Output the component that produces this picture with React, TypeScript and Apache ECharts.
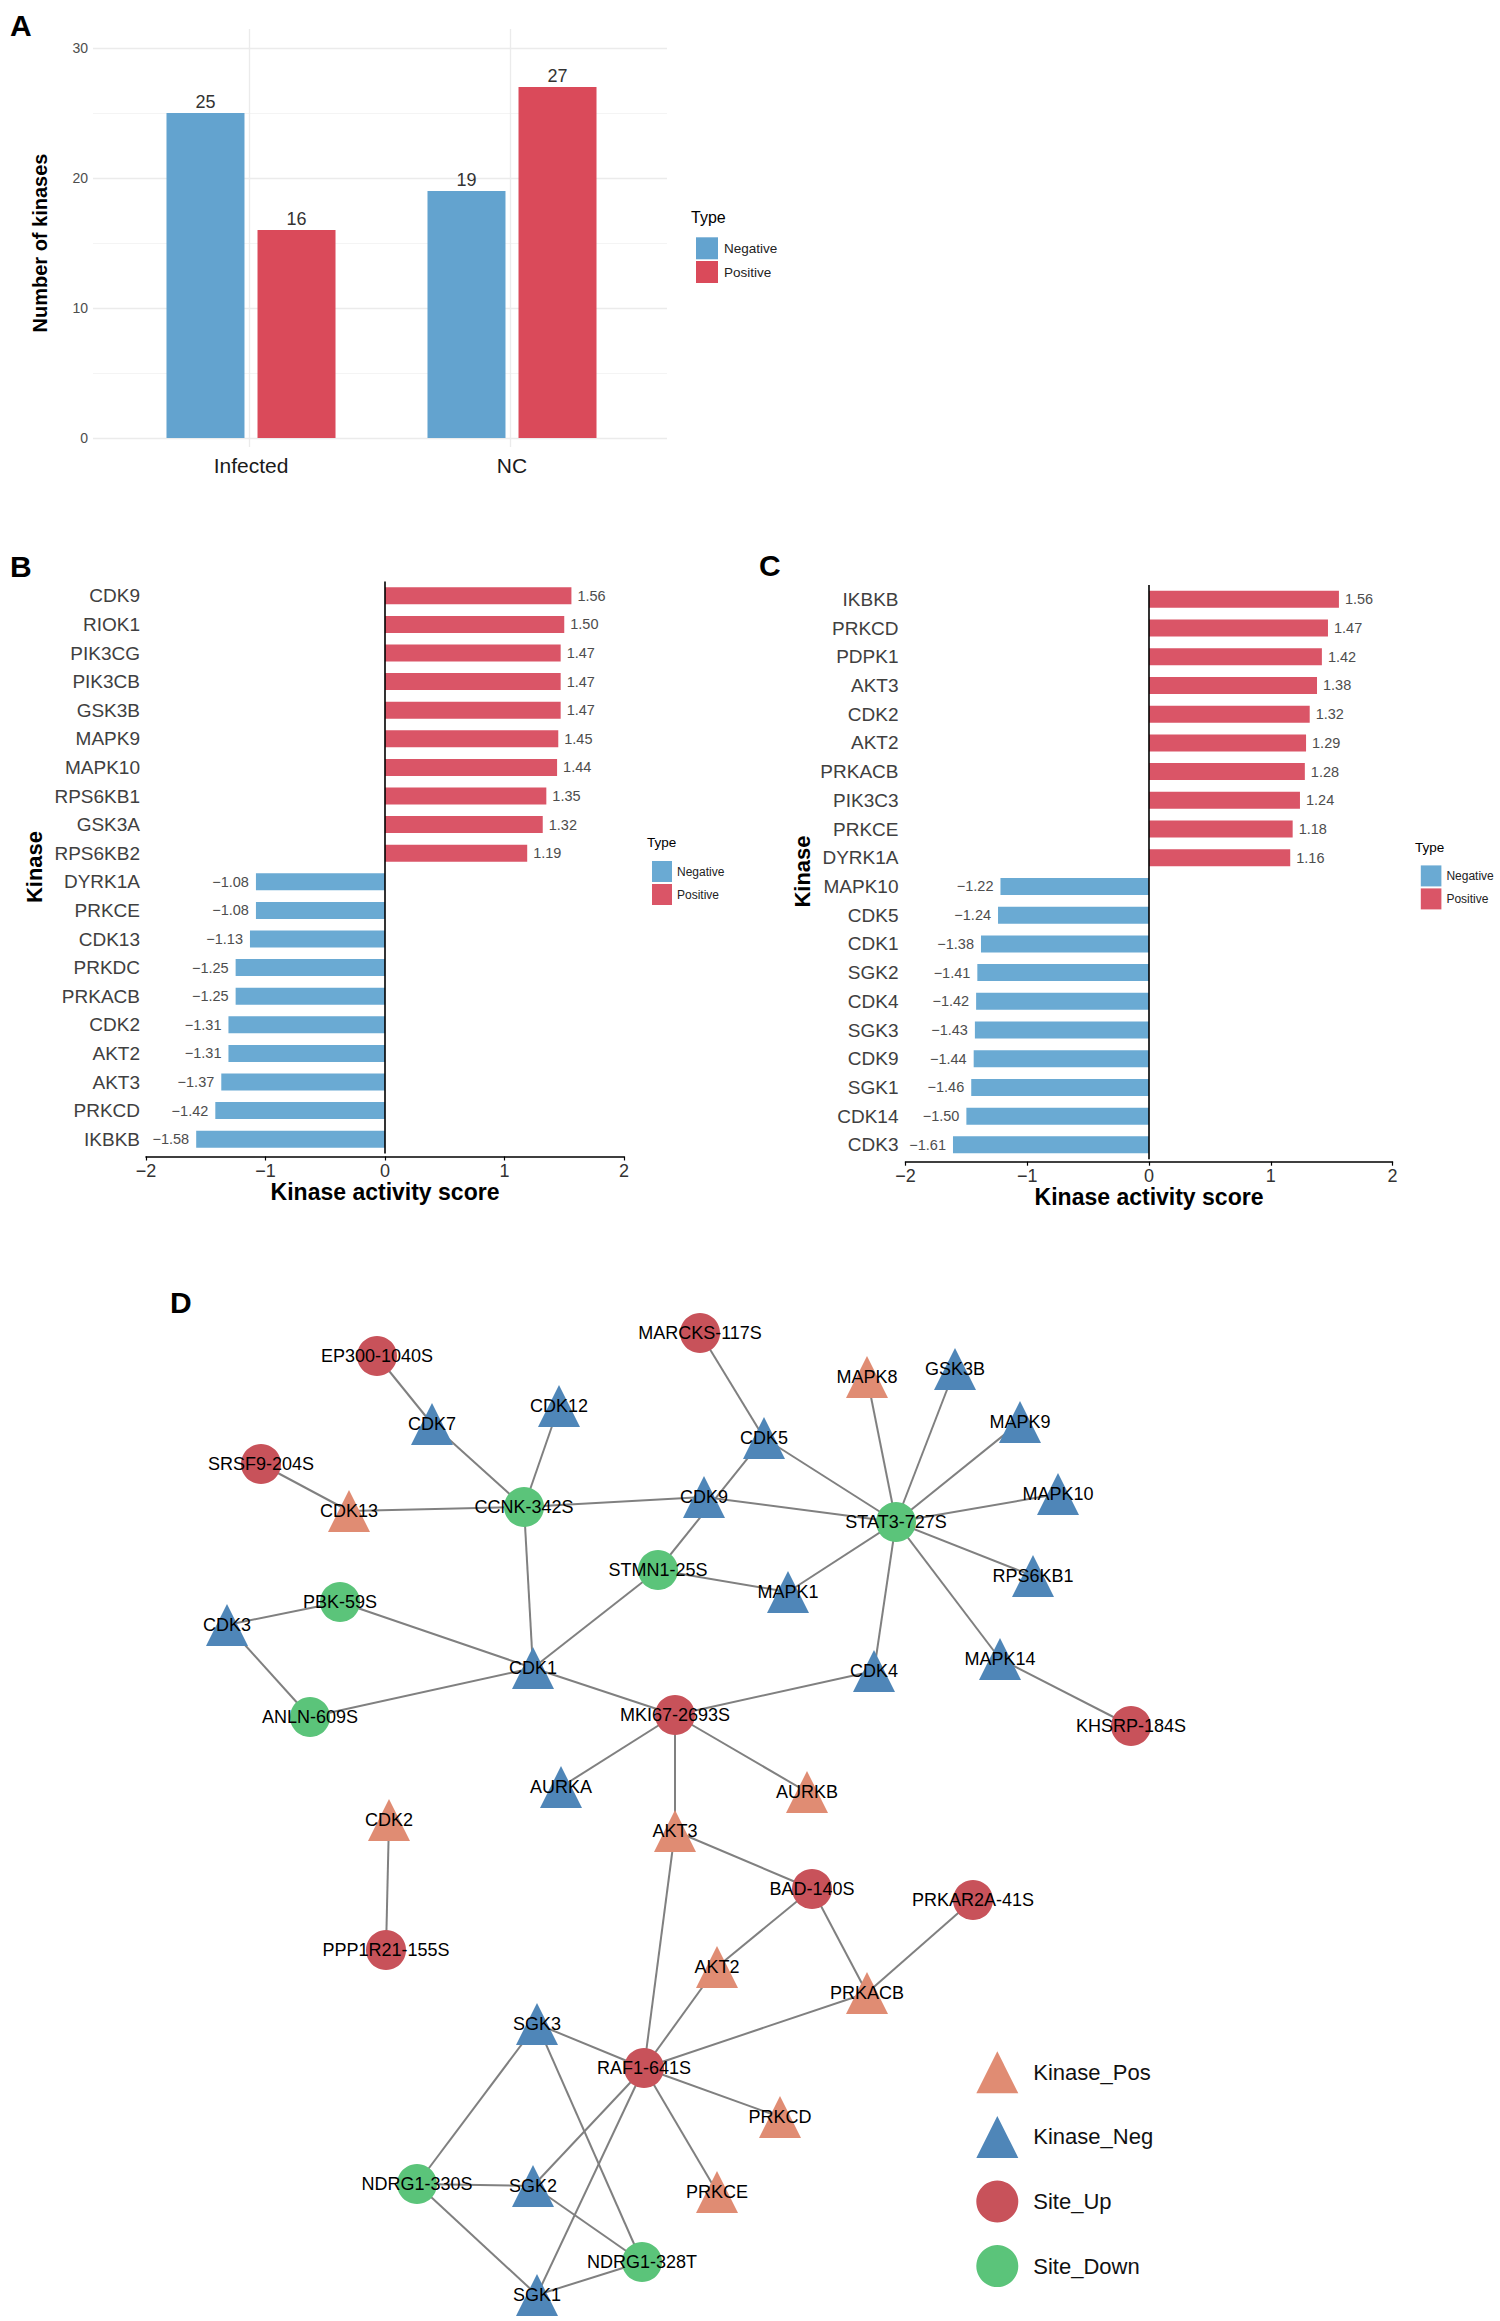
import React, { useEffect, useRef } from 'react';
import * as echarts from 'echarts';

const FONT = '"Liberation Sans", Arial, Helvetica, sans-serif';
const MINUS = '\u2212';

// ---------- Panel A ----------
const aCategories = ['Infected', 'NC'];
const aNegative = [25, 19];
const aPositive = [16, 27];

// ---------- Panel B ----------
const bKinases = ['CDK9', 'RIOK1', 'PIK3CG', 'PIK3CB', 'GSK3B', 'MAPK9', 'MAPK10', 'RPS6KB1', 'GSK3A', 'RPS6KB2',
  'DYRK1A', 'PRKCE', 'CDK13', 'PRKDC', 'PRKACB', 'CDK2', 'AKT2', 'AKT3', 'PRKCD', 'IKBKB'];
const bScores = [1.56, 1.50, 1.47, 1.47, 1.47, 1.45, 1.44, 1.35, 1.32, 1.19,
  -1.08, -1.08, -1.13, -1.25, -1.25, -1.31, -1.31, -1.37, -1.42, -1.58];

// ---------- Panel C ----------
const cKinases = ['IKBKB', 'PRKCD', 'PDPK1', 'AKT3', 'CDK2', 'AKT2', 'PRKACB', 'PIK3C3', 'PRKCE', 'DYRK1A',
  'MAPK10', 'CDK5', 'CDK1', 'SGK2', 'CDK4', 'SGK3', 'CDK9', 'SGK1', 'CDK14', 'CDK3'];
const cScores = [1.56, 1.47, 1.42, 1.38, 1.32, 1.29, 1.28, 1.24, 1.18, 1.16,
  -1.22, -1.24, -1.38, -1.41, -1.42, -1.43, -1.44, -1.46, -1.50, -1.61];

// ---------- Panel D (network layout) ----------
const nodeTypes = ['Kinase_Pos', 'Kinase_Neg', 'Site_Up', 'Site_Down'];
const nodeNames = [
  'CDK7', 'CDK12', 'CDK5', 'CDK9', 'GSK3B', 'MAPK9', 'MAPK10', 'RPS6KB1', 'MAPK1', 'CDK3', 'CDK1', 'CDK4', 'MAPK14', 'AURKA', 'SGK3', 'SGK2', 'SGK1',
  'CDK13', 'MAPK8', 'AURKB', 'CDK2', 'AKT3', 'AKT2', 'PRKACB', 'PRKCD', 'PRKCE',
  'EP300-1040S', 'MARCKS-117S', 'SRSF9-204S', 'MKI67-2693S', 'KHSRP-184S', 'BAD-140S', 'PRKAR2A-41S', 'PPP1R21-155S', 'RAF1-641S',
  'CCNK-342S', 'STMN1-25S', 'PBK-59S', 'ANLN-609S', 'STAT3-727S', 'NDRG1-330S', 'NDRG1-328T',
];
const nodeType = [
  1, 1, 1, 1, 1, 1, 1, 1, 1, 1, 1, 1, 1, 1, 1, 1, 1,
  0, 0, 0, 0, 0, 0, 0, 0, 0,
  2, 2, 2, 2, 2, 2, 2, 2, 2,
  3, 3, 3, 3, 3, 3, 3,
];
const nodeX = [
  432, 559, 764, 704, 955, 1020, 1058, 1033, 788, 227, 533, 874, 1000, 561, 537, 533, 537,
  349, 867, 807, 389, 675, 717, 867, 780, 717,
  377, 700, 261, 675, 1131, 812, 973, 386, 644,
  524, 658, 340, 310, 896, 417, 642,
];
const nodeY = [
  1424, 1406, 1438, 1497, 1369, 1422, 1494, 1576, 1592, 1625, 1668, 1671, 1659, 1787, 2024, 2186, 2295,
  1511, 1377, 1792, 1820, 1831, 1967, 1993, 2117, 2192,
  1356, 1333, 1464, 1715, 1726, 1889, 1900, 1950, 2068,
  1507, 1570, 1602, 1717, 1522, 2184, 2262,
];
const edges: [string, string][] = [
  ['EP300-1040S', 'CDK7'], ['CDK7', 'CCNK-342S'], ['CDK12', 'CCNK-342S'], ['SRSF9-204S', 'CDK13'],
  ['CDK13', 'CCNK-342S'], ['CCNK-342S', 'CDK9'], ['CCNK-342S', 'CDK1'], ['MARCKS-117S', 'CDK5'],
  ['CDK5', 'STMN1-25S'], ['CDK5', 'STAT3-727S'], ['CDK9', 'STAT3-727S'], ['MAPK8', 'STAT3-727S'],
  ['GSK3B', 'STAT3-727S'], ['MAPK9', 'STAT3-727S'], ['MAPK10', 'STAT3-727S'], ['RPS6KB1', 'STAT3-727S'],
  ['MAPK1', 'STAT3-727S'], ['CDK4', 'STAT3-727S'], ['MAPK14', 'STAT3-727S'], ['MAPK14', 'KHSRP-184S'],
  ['STMN1-25S', 'MAPK1'], ['STMN1-25S', 'CDK1'], ['PBK-59S', 'CDK3'], ['PBK-59S', 'CDK1'],
  ['CDK3', 'ANLN-609S'], ['ANLN-609S', 'CDK1'], ['CDK1', 'MKI67-2693S'], ['MKI67-2693S', 'CDK4'],
  ['MKI67-2693S', 'AURKA'], ['MKI67-2693S', 'AURKB'], ['MKI67-2693S', 'AKT3'], ['AKT3', 'BAD-140S'],
  ['AKT3', 'RAF1-641S'], ['CDK2', 'PPP1R21-155S'], ['BAD-140S', 'AKT2'], ['BAD-140S', 'PRKACB'],
  ['PRKAR2A-41S', 'PRKACB'], ['AKT2', 'RAF1-641S'], ['PRKACB', 'RAF1-641S'], ['SGK3', 'RAF1-641S'],
  ['RAF1-641S', 'PRKCD'], ['RAF1-641S', 'PRKCE'], ['RAF1-641S', 'SGK2'], ['RAF1-641S', 'SGK1'],
  ['SGK3', 'NDRG1-330S'], ['SGK3', 'NDRG1-328T'], ['NDRG1-330S', 'SGK2'], ['NDRG1-330S', 'SGK1'],
  ['SGK2', 'NDRG1-328T'], ['SGK1', 'NDRG1-328T'],
];

// ---------- colours ----------
const A_NEG = '#63A3CF';
const A_POS = '#DA4A5A';
const BC_NEG = '#6AAAD3';
const BC_POS = '#DA5567';
const TYPE_COLORS = ['#E08C73', '#4F86B8', '#C8525A', '#5BC47A'];
const TYPE_SYMBOLS = ['triangle', 'triangle', 'circle', 'circle'];

function fmtSigned(v: number) {
  return (v < 0 ? MINUS : '') + Math.abs(v).toFixed(2);
}

function hbarSeries(idx: number, scores: number[], withZero: boolean) {
  const neg = scores.map((v) => (v < 0 ? v : null));
  const pos = scores.map((v) => (v > 0 ? v : null));
  const labelBase = { show: true, fontSize: 14.5, color: '#4d4d4d', fontFamily: FONT, formatter: (p: any) => fmtSigned(p.value) };
  return [
    {
      type: 'bar', name: 'Negative', xAxisIndex: idx, yAxisIndex: idx, data: neg, barWidth: 17, barGap: '-100%',
      itemStyle: { color: BC_NEG }, label: { ...labelBase, position: 'left', distance: 7 }, silent: true, z: 2,
    },
    {
      type: 'bar', name: 'Positive', xAxisIndex: idx, yAxisIndex: idx, data: pos, barWidth: 17, barGap: '-100%',
      itemStyle: { color: BC_POS }, label: { ...labelBase, position: 'right', distance: 6 }, silent: true, z: 2,
      markLine: withZero ? {
        silent: true, symbol: ['none', 'none'], label: { show: false },
        lineStyle: { color: '#000', width: 1.6, type: 'solid' }, data: [{ xAxis: 0 }],
      } : undefined,
    },
  ];
}

function scoreXAxis(gridIndex: number, offset: number) {
  return {
    gridIndex, type: 'value', min: -2, max: 2, interval: 1, offset,
    axisLine: { show: true, onZero: false, lineStyle: { color: '#000', width: 1.6 } },
    axisTick: { show: true, length: 4, lineStyle: { color: '#000', width: 1.2 } },
    axisLabel: { fontSize: 18, color: '#333', margin: 5, fontFamily: FONT, formatter: (v: number) => (v < 0 ? MINUS + Math.abs(v) : String(v)) },
    splitLine: { show: false },
    name: 'Kinase activity score', nameLocation: 'middle', nameGap: 24,
    nameTextStyle: { fontSize: 23, fontWeight: 'bold', color: '#000', fontFamily: FONT },
  };
}

function kinaseYAxis(gridIndex: number, data: string[], margin: number) {
  return {
    gridIndex, type: 'category', inverse: true, data,
    axisLine: { show: false }, axisTick: { show: false }, splitLine: { show: false },
    axisLabel: { fontSize: 19, color: '#404040', margin, fontFamily: FONT },
  };
}

function typeLegend(left: number, top: number, w: number, h: number, gap: number, pad: number, fs: number, neg: string, pos: string) {
  return {
    orient: 'vertical', left, top, itemWidth: w, itemHeight: h, itemGap: gap, icon: 'rect', selectedMode: false,
    textStyle: { fontSize: fs, color: '#222', fontFamily: FONT, padding: [0, 0, 0, pad] },
    data: [
      { name: 'Negative', itemStyle: { color: neg } },
      { name: 'Positive', itemStyle: { color: pos } },
    ],
  };
}

function txt(x: number, y: number, text: string, fontSize: number, bold: boolean, rotation = 0, align = 'left') {
  return {
    type: 'text', x, y, rotation, silent: true,
    style: { text, fontSize, fontWeight: bold ? 'bold' : 'normal', fontFamily: FONT, fill: '#000', align, verticalAlign: 'middle' },
  };
}

export default function App() {
  const ref = useRef<HTMLDivElement>(null);
  useEffect(() => {
    if (!ref.current) return;
    const chart = echarts.init(ref.current, undefined, { renderer: 'svg' });

    const nodes = nodeNames.map((name, i) => ({
      name,
      value: [nodeX[i], nodeY[i]],
      category: nodeType[i],
      symbol: TYPE_SYMBOLS[nodeType[i]],
      symbolSize: nodeType[i] < 2 ? [42, 42] : 40,
      itemStyle: { color: TYPE_COLORS[nodeType[i]] },
    }));

    const option: any = {
      animation: false,
      backgroundColor: '#fff',
      textStyle: { fontFamily: FONT },
      grid: [
        { left: 93, top: 29, width: 574, height: 418 },
        { left: 93, top: 48, width: 574, height: 390 },
        { left: 120.5, top: 48, width: 522, height: 390 },
        { left: 146, top: 581.5, width: 478, height: 572 },
        { left: 905.5, top: 585, width: 487, height: 574.2 },
        { left: 0, top: 0, width: 1500, height: 2321 },
      ],
      xAxis: [
        { gridIndex: 0, type: 'value', min: 0.4, max: 2.6, show: false },
        { gridIndex: 1, type: 'value', min: 0.4, max: 2.6, show: false },
        {
          gridIndex: 2, type: 'category', data: aCategories,
          axisLine: { show: false }, axisTick: { show: false }, splitLine: { show: false },
          axisLabel: { fontSize: 21, color: '#1a1a1a', margin: 17, fontFamily: FONT },
        },
        scoreXAxis(3, 3),
        scoreXAxis(4, 2.5),
        { gridIndex: 5, type: 'value', min: 0, max: 1500, show: false },
      ],
      yAxis: [
        { gridIndex: 0, type: 'value', min: 0, max: 1, show: false },
        {
          gridIndex: 1, type: 'value', min: 0, max: 30, interval: 10,
          axisLine: { show: false }, axisTick: { show: false },
          axisLabel: { fontSize: 14, color: '#4d4d4d', margin: 5, fontFamily: FONT },
          splitLine: { show: true, lineStyle: { color: '#EBEBEB', width: 1.3 } },
          minorTick: { show: false, splitNumber: 2 },
          minorSplitLine: { show: true, lineStyle: { color: '#F4F4F4', width: 1 } },
        },
        { gridIndex: 2, type: 'value', min: 0, max: 30, show: false },
        kinaseYAxis(3, bKinases, 6),
        kinaseYAxis(4, cKinases, 7),
        { gridIndex: 5, type: 'value', min: 0, max: 2321, inverse: true, show: false },
      ],
      legend: [
        typeLegend(691, 232.3, 22, 22, 1.7, 1, 13.5, A_NEG, A_POS),
        typeLegend(647, 856, 20, 21, 2, 0, 12, BC_NEG, BC_POS),
        typeLegend(1415.8, 860.4, 20.6, 21, 2, 0, 12, BC_NEG, BC_POS),
        {
          orient: 'vertical', left: 971.3, top: 2046.3, itemWidth: 42, itemHeight: 42, itemGap: 22.6, selectedMode: false,
          textStyle: { fontSize: 22, color: '#111', fontFamily: FONT, padding: [0, 0, 0, 10] },
          data: nodeTypes.map((n, i) => ({ name: n, icon: TYPE_SYMBOLS[i], itemStyle: { color: TYPE_COLORS[i] } })),
        },
      ],
      graphic: [
        txt(10, 25, 'A', 30, true),
        txt(10, 566, 'B', 30, true),
        txt(759, 565, 'C', 30, true),
        txt(170, 1302.5, 'D', 30, true),
        txt(691, 217, 'Type', 16, false),
        txt(647, 842, 'Type', 13.5, false),
        txt(1415, 847, 'Type', 13.5, false),
        txt(40, 243, 'Number of kinases', 20, true, Math.PI / 2, 'center'),
        txt(34, 867, 'Kinase', 22, true, Math.PI / 2, 'center'),
        txt(802, 871.5, 'Kinase', 22, true, Math.PI / 2, 'center'),
      ],
      series: [
        {
          type: 'scatter', xAxisIndex: 0, yAxisIndex: 0, data: [[1, 0.5]], symbolSize: 0, silent: true, z: 0,
          markLine: {
            silent: true, symbol: ['none', 'none'], label: { show: false },
            lineStyle: { color: '#EBEBEB', width: 1.3, type: 'solid' },
            data: [{ xAxis: 1 }, { xAxis: 2 }],
          },
        },
        {
          type: 'bar', name: 'Negative', xAxisIndex: 2, yAxisIndex: 2, data: aNegative, barWidth: 78, barGap: '16.7%',
          itemStyle: { color: A_NEG }, silent: true, z: 2,
          label: { show: true, position: 'top', distance: 2, fontSize: 18, color: '#333', fontFamily: FONT },
        },
        {
          type: 'bar', name: 'Positive', xAxisIndex: 2, yAxisIndex: 2, data: aPositive, barWidth: 78, barGap: '16.7%',
          itemStyle: { color: A_POS }, silent: true, z: 2,
          label: { show: true, position: 'top', distance: 2, fontSize: 18, color: '#333', fontFamily: FONT },
        },
        ...hbarSeries(3, bScores, true),
        ...hbarSeries(4, cScores, true),
        {
          type: 'graph', coordinateSystem: 'cartesian2d', xAxisIndex: 5, yAxisIndex: 5,
          layout: 'none', roam: false, silent: true, z: 3,
          categories: nodeTypes.map((n, i) => ({ name: n, symbol: TYPE_SYMBOLS[i], itemStyle: { color: TYPE_COLORS[i] } })),
          data: nodes,
          links: edges.map(([s, t]) => ({ source: s, target: t })),
          lineStyle: { color: '#808080', width: 2, opacity: 1, curveness: 0 },
          label: { show: true, position: 'inside', fontSize: 18, color: '#000', fontFamily: FONT },
          emphasis: { disabled: true },
        },
      ],
    };

    chart.setOption(option);
    return () => chart.dispose();
  }, []);

  return <div ref={ref} style={{ position: 'absolute', left: 0, top: 0, width: 1500, height: 2321, background: '#fff' }} />;
}
